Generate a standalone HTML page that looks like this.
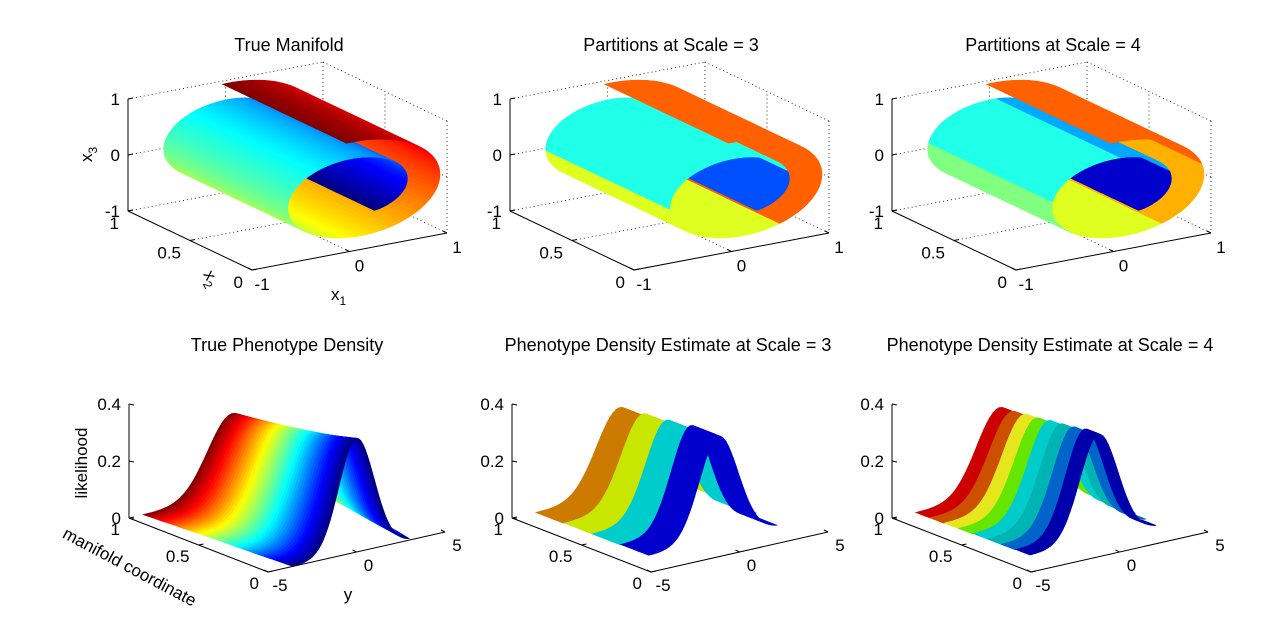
<!DOCTYPE html>
<html><head><meta charset="utf-8"><style>
html,body{margin:0;padding:0;background:#fff;}
svg{display:block;font-family:"Liberation Sans",Arial,sans-serif;}
.t{font-size:17px;fill:#000;}
.ti{font-size:18px;fill:#000;text-anchor:middle;}
</style></head><body>
<svg id="fig" width="1287" height="635" viewBox="0 0 1287 635" xmlns="http://www.w3.org/2000/svg">
<rect width="1287" height="635" fill="#fff"/>
</svg>
<script>
// ---------- data ----------
const rollKnotsT=[0,0.2,0.4,0.6,0.8,1];
const rollKnotsR=[0.92,0.84,0.77,0.68,0.56,0.42];
const rollStartAngle=[Math.PI/2+0.12];
const rollSweepTurns=[1.45];
const rollCenter=[0.08,0.03];
const scale3Breaks=[0,0.3,0.52,0.83,1];
const scale3Colors=['#ff6000','#dfff20','#20ffe8','#0050ff'];
const scale4Breaks=[0,0.15,0.3,0.44,0.54,0.7,0.83,1];
const scale4Colors=['#ff6000','#ffb000','#dfff20','#80ff80','#20ffe8','#00a8ff','#0000cc'];
const densityM=[0,0.25,0.5,0.75,1];
const densityMean=[0,0.2,0.45,0.65,0.85];
const densitySD=[1,1.1,1.2,1.3,1.4];
const est3Edges=[0.2,0.4,0.6,0.8,1.0];
const est3Means=[0.4,0.6,0.85,1.1];
const est3SDs=[1.1,1.17,1.24,1.32];
const est3Colors=['#0000cc','#00cccc','#c8e600','#cc7a00'];
const est4Edges=[0.2,0.3,0.4,0.5,0.6,0.7,0.8,0.9,1.0];
const est4Means=[0.4,0.5,0.6,0.7,0.8,0.9,1.0,1.1];
const est4SDs=[1.08,1.12,1.15,1.18,1.22,1.25,1.29,1.32];
const est4Colors=['#0000aa','#0064c8','#00b4b4','#00cccc','#64e600','#e6e61e','#cc5000','#cc0000'];
const topZTicks=[-1,0,1];
const topX2Ticks=[0,0.5,1];
const topX1Ticks=[-1,0,1];
const botZTicks=[0,0.2,0.4];
const botMTicks=[0,0.5,1];
const botYTicks=[-5,0,5];
const topTitles=['True Manifold','Partitions at Scale = 3','Partitions at Scale = 4'];
const botTitles=['True Phenotype Density','Phenotype Density Estimate at Scale = 3','Phenotype Density Estimate at Scale = 4'];

// ---------- helpers ----------
const NS='http://www.w3.org/2000/svg';
const svg=document.getElementById('fig');
function mk(tag,parent){const e=document.createElementNS(NS,tag);parent.appendChild(e);return e;}
function jet(v){v=Math.max(0,Math.min(1,v));
 const r=Math.max(0,Math.min(1,1.5-Math.abs(4*v-3)));
 const g=Math.max(0,Math.min(1,1.5-Math.abs(4*v-2)));
 const b=Math.max(0,Math.min(1,1.5-Math.abs(4*v-1)));
 return 'rgb('+Math.round(r*255)+','+Math.round(g*255)+','+Math.round(b*255)+')';}
function lerpArr(xs,ys,x){for(let i=0;i<xs.length-1;i++){if(x<=xs[i+1]){const f=(x-xs[i])/(xs[i+1]-xs[i]);return ys[i]+f*(ys[i+1]-ys[i]);}}return ys[ys.length-1];}
function pickColor(breaks,colors,t){for(let i=0;i<colors.length;i++){if(t<=breaks[i+1])return colors[i];}return colors[colors.length-1];}
const topDX=[0,382,764], botDX=[0,383,763];
function P(dx,x1,x2,z){return [252+97.5*(x1+1)-124*x2+dx,270-18.5*(x1+1)-59*x2-56*(z+1)];}
function Q(dx,y,m,z){return [268+17.7*(y+5)-139*m+dx,572-4*(y+5)-54*m-285*z];}
function line(g,a,b,dotted){const l=mk('line',g);l.setAttribute('x1',a[0]);l.setAttribute('y1',a[1]);l.setAttribute('x2',b[0]);l.setAttribute('y2',b[1]);l.setAttribute('stroke','#000');l.setAttribute('stroke-width',dotted?0.8:1);if(dotted)l.setAttribute('stroke-dasharray','1,3');return l;}
function text(g,x,y,s,anchor,cls){const t=mk('text',g);t.setAttribute('x',x);t.setAttribute('y',y);t.setAttribute('class',cls||'t');if(anchor)t.setAttribute('text-anchor',anchor);t.textContent=s;return t;}
function drawPolys(g,polys){polys.sort((a,b)=>a.d-b.d);
 for(const p of polys){const e=mk('polygon',g);e.setAttribute('points',p.pts.map(q=>q[0].toFixed(1)+','+q[1].toFixed(1)).join(' '));e.setAttribute('fill',p.c);e.setAttribute('stroke',p.c);e.setAttribute('stroke-width','0.7');}}

// ---------- top panels ----------
function rollPoint(t){const r=lerpArr(rollKnotsT,rollKnotsR,t);const th=rollStartAngle[0]-2*Math.PI*rollSweepTurns[0]*t;return [rollCenter[0]+r*Math.cos(th),rollCenter[1]+r*Math.sin(th)];}
function drawTop(k){
 const dx=topDX[k];
 const g=mk('g',svg);
 
 
 const grid=mk('g',g);
 
 
 const segs=[[[-1,1,1],[1,1,1]],[[1,1,1],[1,0,1]],[[1,1,1],[1,1,-1]],[[1,0,1],[1,0,-1]],[[-1,1,-1],[1,1,-1]],[[1,1,-1],[1,0,-1]],
  [[-1,1,0],[1,1,0]],[[1,1,0],[1,0,0]],[[0,0,-1],[0,1,-1]],[[0,1,-1],[0,1,1]],[[-1,0.5,-1],[1,0.5,-1]],[[1,0.5,-1],[1,0.5,1]]];
 for(const s of segs)line(grid,P(dx,...s[0]),P(dx,...s[1]),true);
 const surf=mk('g',g);
 
 
 const NT=150,NX=10,polys=[];
 for(let i=0;i<NT;i++){const t0=i/NT,t1=(i+1)/NT,tm=(t0+t1)/2;
  const a=rollPoint(t0),b=rollPoint(t1);
  let c;
  if(k==0)c=jet(1-tm);else if(k==1)c=pickColor(scale3Breaks,scale3Colors,tm);else c=pickColor(scale4Breaks,scale4Colors,tm);
  for(let j=0;j<NX;j++){const u0=j/NX,u1=(j+1)/NX;
   const pts=[P(dx,a[0],u0,a[1]),P(dx,b[0],u0,b[1]),P(dx,b[0],u1,b[1]),P(dx,a[0],u1,a[1])];
   const cx=(a[0]+b[0])/2,cz=(a[1]+b[1])/2,cu=(u0+u1)/2;
   polys.push({pts,c,d:-0.5*cx-0.81*(2*cu-1)+0.3*cz});}}
 drawPolys(surf,polys);
 const ax=mk('g',g);
 
 
 line(ax,P(dx,-1,1,1),P(dx,-1,1,-1));line(ax,P(dx,-1,1,-1),P(dx,-1,0,-1));line(ax,P(dx,-1,0,-1),P(dx,1,0,-1));
 for(const v of topZTicks){const p=P(dx,-1,1,v);line(ax,p,[p[0]+5,p[1]-1]);const t=text(ax,p[0]-8,p[1]+6,String(v),'end');
  
  }
 for(const v of topX2Ticks){const p=P(dx,-1,v,-1);line(ax,p,[p[0]+5,p[1]-1]);const t=text(ax,p[0]-9,p[1]+18,String(v),'end');
  
  }
 for(const v of topX1Ticks){const p=P(dx,v,0,-1);line(ax,p,[p[0]-4,p[1]-2]);const t=text(ax,p[0]+10,p[1]+20,String(v),'middle');
  
  }
 const ti=text(g,289+dx,51,topTitles[k],null,'ti');
 
 
 if(k==0){
  const l3=mk('text',g);l3.setAttribute('class','t');l3.setAttribute('transform','translate(92,162) rotate(-90)');l3.innerHTML='x<tspan font-size="12" dy="5">3</tspan>';
  
  
  const l2=mk('text',g);l2.setAttribute('class','t');l2.setAttribute('transform','translate(203,274) rotate(62)');l2.innerHTML='x<tspan font-size="12" dy="5">2</tspan>';
  
  
  const l1=mk('text',g);l1.setAttribute('class','t');l1.setAttribute('x',331);l1.setAttribute('y',300);l1.innerHTML='x<tspan font-size="12" dy="5">1</tspan>';
  
  
 }
}
[0,1,2].forEach(drawTop);

// ---------- bottom panels ----------
function bdepth(y,m,z){return -0.58*(y/5)-0.74*(2*m-1)+0.34*(z/0.2-1);}
function gauss(y,mu,sd){return Math.exp(-0.5*((y-mu)/sd)**2)/(sd*Math.sqrt(2*Math.PI));}
function addBand(polys,dx,m0,m1,muF,sdF,colF,nm){
 const NS_=50;
 for(let i=0;i<nm;i++){const ma=m0+(m1-m0)*i/nm,mb=m0+(m1-m0)*(i+1)/nm;
  const grid=[ma,mb].map(m=>{const mu=muF(m),sd=sdF(m);const row=[];for(let j=0;j<=NS_;j++){const s=-3.6+6.6*j/NS_;const y=mu+s*sd;row.push([y,m,gauss(y,mu,sd)]);}return row;});
  const c=colF((ma+mb)/2);
  for(let j=0;j<NS_;j++){const q=[grid[0][j],grid[0][j+1],grid[1][j+1],grid[1][j]];
   const cy=(q[0][0]+q[1][0]+q[2][0]+q[3][0])/4,cm=(ma+mb)/2,cz=(q[0][2]+q[1][2]+q[2][2]+q[3][2])/4;
   polys.push({pts:q.map(v=>Q(dx,v[0],v[1],v[2])),c,d:bdepth(cy,cm,cz)});}}
}
function drawBottom(k){
 const dx=botDX[k];
 const g=mk('g',svg);
 
 
 const surf=mk('g',g);
 
 
 const polys=[];
 if(k==0){
  addBand(polys,dx,0,1,m=>lerpArr(densityM,densityMean,m),m=>lerpArr(densityM,densitySD,m),m=>jet(m),48);
 }else{
  const E=k==1?est3Edges:est4Edges,Mu=k==1?est3Means:est4Means,SD=k==1?est3SDs:est4SDs,C=k==1?est3Colors:est4Colors;
  for(let b=0;b<C.length;b++){addBand(polys,dx,E[b],E[b+1],()=>Mu[b],()=>SD[b],()=>C[b],3);}
 }
 drawPolys(surf,polys);
 const ax=mk('g',g);
 
 
 line(ax,Q(dx,-5,1,0.4),Q(dx,-5,1,0));line(ax,Q(dx,-5,1,0),Q(dx,-5,0,0));line(ax,Q(dx,-5,0,0),Q(dx,5,0,0));
 for(const v of botZTicks){const p=Q(dx,-5,1,v);line(ax,p,[p[0]+5,p[1]+1]);const t=text(ax,p[0]-8,p[1]+6,String(v),'end');
  
  }
 for(const v of botMTicks){const p=Q(dx,-5,v,0);line(ax,p,[p[0]+5,p[1]-1]);const t=text(ax,p[0]-9,p[1]+17,String(v),'end');
  
  }
 for(const v of botYTicks){const p=Q(dx,v,0,0);line(ax,p,[p[0]-4,p[1]-2]);const t=text(ax,p[0]+12,p[1]+19,String(v),'middle');
  
  }
 const ti=text(g,[287,668,1050][k],351,botTitles[k],null,'ti');
 
 
 if(k==0){
  const a=text(g,0,0,'likelihood','middle');a.setAttribute('transform','translate(87,463) rotate(-90)');
  
  
  const b=text(g,0,0,'manifold coordinate','middle');b.setAttribute('transform','translate(127,572) rotate(28)');
  
  
  const c=text(g,348,600,'y','middle');
  
  
 }
}
[0,1,2].forEach(drawBottom);
</script>
</body></html>
